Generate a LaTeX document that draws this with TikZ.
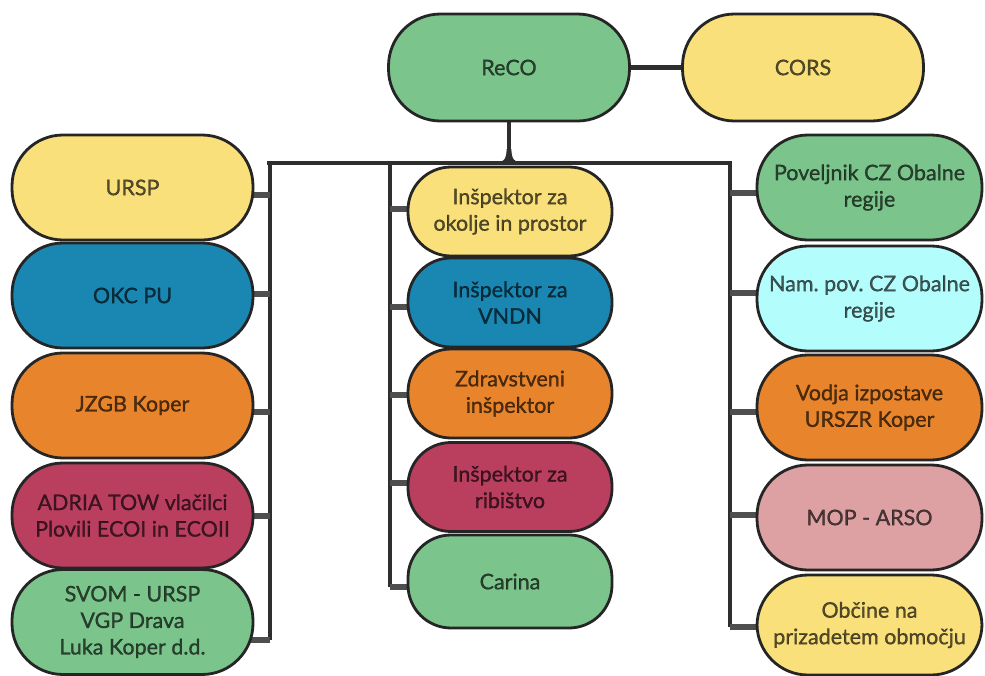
\documentclass[tikz,border=0pt]{standalone}
\usepackage{fontspec}
\setmainfont{Lato}
\newfontfamily\pillfont{Lato}[FakeBold=0.9]
\usetikzlibrary{backgrounds}
\definecolor{cgreen}{HTML}{7BC48B}
\definecolor{cyellow}{HTML}{F9E07B}
\definecolor{cblue}{HTML}{1A87B3}
\definecolor{corange}{HTML}{E8842B}
\definecolor{ccrimson}{HTML}{BA3F5F}
\definecolor{ccyan}{HTML}{B4FDFD}
\definecolor{cpink}{HTML}{DDA0A3}
\definecolor{cborder}{HTML}{252525}
\definecolor{cbus}{HTML}{2E2E2E}
\definecolor{cstub}{HTML}{4F4F4F}
\begin{document}
\frenchspacing
\begin{tikzpicture}[x=1pt,y=-1pt,
  pill/.style={draw=cborder,line width=2.8pt,align=center,inner sep=0pt,
    font=\pillfont\fontsize{21.5}{26.5}\selectfont,text=black,text opacity=0.66},
  bigpill/.style={pill,minimum width=241pt,minimum height=105pt,rounded corners=51pt},
  midpill/.style={pill,minimum width=204pt,minimum height=89pt,rounded corners=43pt},
  toppill/.style={pill,minimum width=241pt,minimum height=107pt,rounded corners=52pt},
  rpill/.style={pill,minimum width=225pt,minimum height=105pt,rounded corners=51pt},
  bus/.style={draw=cbus,line width=4.8pt},
  stub/.style={draw=cstub,line width=6pt}]
\useasboundingbox (0,0) rectangle (985,675);
% top
\node[toppill,fill=cgreen] (reco) at (509,67.5) {ReCO};
\node[toppill,fill=cyellow] (cors) at (803,67.5) {CORS};
% left column
\node[bigpill,fill=cyellow] (ursp) at (132.5,187.5) {URSP};
\node[bigpill,fill=cblue] (okc) at (132.5,295.5) {OKC PU};
\node[bigpill,fill=corange] (jzgb) at (132.5,405.5) {JZGB Koper};
\node[bigpill,fill=ccrimson] (adria) at (132.5,515.5) {ADRIA TOW vlačilci\\Plovili ECOI in ECOII};
\node[bigpill,fill=cgreen] (svom) at (132.5,622) {SVOM - URSP\\VGP Drava\\Luka Koper d.d.};
% middle column
\node[midpill,fill=cyellow] (okolje) at (510,211.5) {Inšpektor za\\okolje in prostor};
\node[midpill,fill=cblue] (vndn) at (510,302.5) {Inšpektor za\\VNDN};
\node[midpill,fill=corange] (zdrav) at (510,393.5) {Zdravstveni\\inšpektor};
\node[midpill,fill=ccrimson] (rib) at (510,487) {Inšpektor za\\ribištvo};
\node[midpill,fill=cgreen,minimum height=93pt] (carina) at (510,581.5) {Carina};
% right column
\node[rpill,fill=cgreen] (povel) at (869.5,187.5) {Poveljnik CZ Obalne\\regije};
\node[rpill,fill=ccyan] (nam) at (869.5,298.5) {Nam. pov. CZ Obalne\\regije};
\node[rpill,fill=corange] (vodja) at (869.5,407.5) {Vodja izpostave\\URSZR Koper};
\node[rpill,fill=cpink] (mop) at (869.5,517.5) {MOP - ARSO};
\node[rpill,fill=cyellow,minimum height=100pt] (obc) at (869.5,625) {Občine na\\prizadetem območju};
% bus coordinates
\coordinate (jn) at (509,163);
\coordinate (bl) at (267,163);
\coordinate (br) at (730,163);
\coordinate (lvtop) at (270,163);
\coordinate (mvtop) at (390,163);
% stub end points on the boxes
\coordinate (s1) at ([xshift=-4pt,yshift=-7.5pt]ursp.east);
\coordinate (s2) at ([xshift=-4pt,yshift=2pt]okc.east);
\coordinate (s3) at ([xshift=-4pt,yshift=-6.5pt]jzgb.east);
\coordinate (s4) at ([xshift=-4pt]adria.east);
\coordinate (s5) at ([xshift=-6pt,yshift=-18pt]svom.east);
\coordinate (m1) at ([xshift=4pt,yshift=2.5pt]okolje.west);
\coordinate (m2) at ([xshift=4pt,yshift=-4.5pt]vndn.west);
\coordinate (m3) at ([xshift=4pt,yshift=-1.5pt]zdrav.west);
\coordinate (m4) at ([xshift=4pt,yshift=4pt]rib.west);
\coordinate (m5) at ([xshift=5pt,yshift=-5.5pt]carina.west);
\coordinate (r1) at ([xshift=4pt,yshift=-5.5pt]povel.west);
\coordinate (r2) at ([xshift=4pt,yshift=5.5pt]nam.west);
\coordinate (r3) at ([xshift=4pt,yshift=-4.5pt]vodja.west);
\coordinate (r4) at ([xshift=4pt,yshift=2.5pt]mop.west);
\coordinate (r5) at ([xshift=4pt,yshift=-2pt]obc.west);
\begin{scope}[on background layer]
\draw[bus] (reco.east) -- (cors.west);
\draw[bus] (reco.south) -- (jn);
\fill[cbus] ([xshift=-13pt]jn) .. controls ([xshift=-5pt]jn) and ([xshift=-2.4pt,yshift=5pt]jn) .. ([xshift=-2.4pt,yshift=14pt]jn)
  -- ([xshift=2.4pt,yshift=14pt]jn) .. controls ([xshift=2.4pt,yshift=5pt]jn) and ([xshift=5pt]jn) .. ([xshift=13pt]jn) -- cycle;
\draw[bus] (bl) -- (br) -- (br |- r5);
\draw[bus] (lvtop) -- (lvtop |- s5);
\draw[bus] (mvtop) -- (mvtop |- m5);
% left stubs
\foreach \s in {s1,s2,s3,s4,s5} \draw[stub] (lvtop |- \s) -- (\s);
% middle stubs
\foreach \s in {m1,m2,m3,m4,m5} \draw[stub] (mvtop |- \s) -- (\s);
% right stubs
\foreach \s in {r1,r2,r3,r4,r5} \draw[stub] (br |- \s) -- (\s);
\end{scope}
\end{tikzpicture}
\end{document}
